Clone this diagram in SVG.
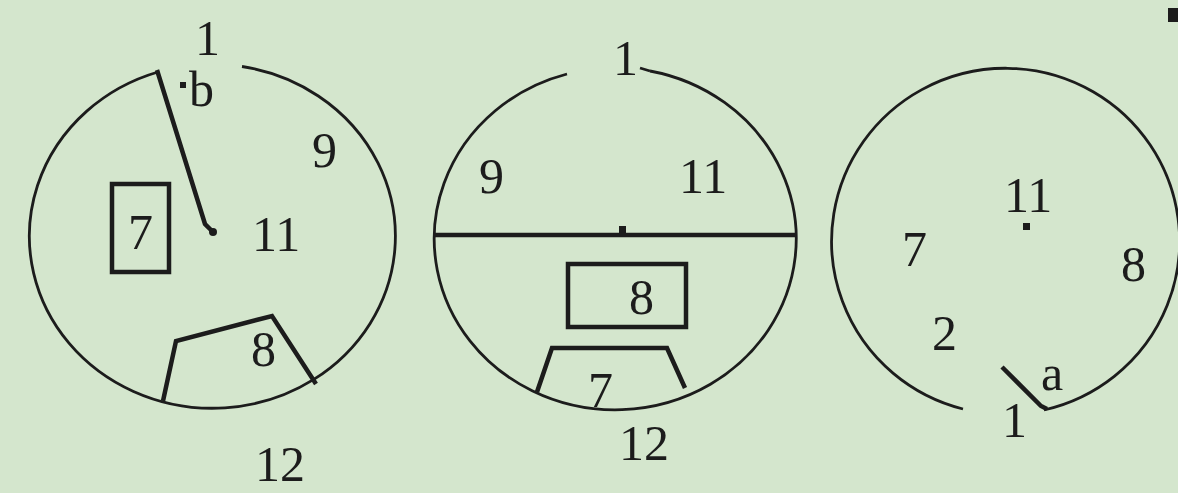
<svg xmlns="http://www.w3.org/2000/svg" width="1178" height="493" viewBox="0 0 1178 493">
<style>
.bg{fill:#d4e6cd}
.arc{fill:none;stroke:#1c1c1c;stroke-width:2.8}
.thick{fill:none;stroke:#1c1c1c;stroke-width:4.5;stroke-linejoin:miter}
.t{font-family:"Liberation Serif","Times New Roman",serif;font-size:50px;fill:#1c1c1c}
.dot{fill:#1c1c1c}
</style>
<rect class="bg" x="0" y="0" width="1178" height="493"/>
<g id="diagram-left">
<path class="arc" d="M158,72 A183,172 0 1 0 242,66.5"/>
<path class="thick" d="M157,70 L205,224 L213,232"/>
<circle class="dot" cx="213" cy="232" r="4"/>
<rect class="dot" x="180" y="82" width="6" height="6"/>
<rect class="thick" x="112" y="184" width="57" height="88"/>
<path class="thick" d="M163,401 L176,341 L272,316 L316,384"/>
<text class="t" x="195" y="55">1</text>
<text class="t" x="189" y="106">b</text>
<text class="t" x="312" y="167">9</text>
<text class="t" x="128" y="249">7</text>
<text class="t" x="252" y="251">11</text>
<text class="t" x="251" y="366">8</text>
<text class="t" x="255" y="481">12</text>
</g>
<g id="diagram-middle">
<path class="arc" d="M567,74 A181,171 0 1 0 650,71"/>
<path class="arc" d="M640,68 L650,71"/>
<line class="thick" x1="435" y1="235" x2="797" y2="235"/>
<rect class="dot" x="619" y="226" width="7" height="7"/>
<rect class="thick" x="568" y="264" width="118" height="63"/>
<path class="thick" d="M537,392 L552,348 L667,348 L685,388"/>
<text class="t" x="613" y="75">1</text>
<text class="t" x="479" y="193">9</text>
<text class="t" x="679" y="193">11</text>
<text class="t" x="629" y="314">8</text>
<text class="t" x="588" y="407">7</text>
<text class="t" x="619" y="460">12</text>
</g>
<g id="diagram-right">
<path class="arc" d="M1044,410 A174,173 0 1 0 963,409"/>
<path class="thick" d="M1002,367 L1041,406 L1047,409"/>
<rect class="dot" x="1023" y="223" width="7" height="7"/>
<text class="t" x="1004" y="212">11</text>
<text class="t" x="902" y="266">7</text>
<text class="t" x="1121" y="281">8</text>
<text class="t" x="932" y="350">2</text>
<text class="t" x="1041" y="390">a</text>
<text class="t" x="1002" y="437">1</text>
<rect class="dot" x="1168" y="8" width="10" height="14"/>
</g>
</svg>
